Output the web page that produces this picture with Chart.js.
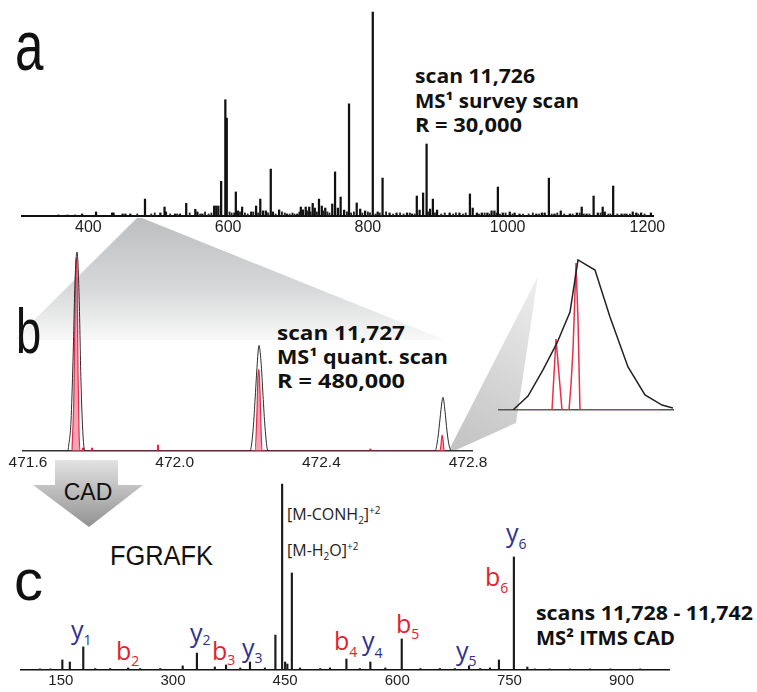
<!DOCTYPE html>
<html>
<head>
<meta charset="utf-8">
<script src="https://cdn.jsdelivr.net/npm/chart.js@4.4.1/dist/chart.umd.min.js"></script>
<style>
html, body { margin: 0; padding: 0; background: #fff; }
#fig { position: relative; width: 757px; height: 692px; overflow: hidden; }
#fig canvas, #fig svg { position: absolute; }
.lbl { font-family: 'Liberation Sans', Arial, sans-serif; fill: #111; }
.bold { font-family: 'Open Sans', sans-serif; font-weight: bold; fill: #111; }
.ion { font-family: 'Open Sans', sans-serif; font-size: 25px; }
.yion { fill: #2e3192; }
.bion { fill: #e3202e; }
</style>
</head>
<body>
<div id="fig">
<svg width="757" height="692" style="left:0;top:0">
  <defs>
    <linearGradient id="fan" gradientUnits="userSpaceOnUse" x1="0" y1="218" x2="0" y2="350">
      <stop offset="0" stop-color="#bcbec0"/>
      <stop offset="0.55" stop-color="#d8d9da"/>
      <stop offset="1" stop-color="#ffffff"/>
    </linearGradient>
    <linearGradient id="wedge" gradientUnits="userSpaceOnUse" x1="450" y1="449" x2="540" y2="276">
      <stop offset="0" stop-color="#c2c2c2"/>
      <stop offset="1" stop-color="#efefef"/>
    </linearGradient>
    <linearGradient id="arrow" gradientUnits="userSpaceOnUse" x1="0" y1="460" x2="0" y2="527">
      <stop offset="0" stop-color="#e2e2e2"/>
      <stop offset="1" stop-color="#929292"/>
    </linearGradient>
  </defs>
  <polygon points="137,218 142,218 445,340 14,340" fill="url(#fan)"/>
  <polygon points="449,450 538,276 516,423 456,450" fill="url(#wedge)"/>
  <polygon points="55,460 118,460 118,485 143,485 89,527 33,485 55,485" fill="url(#arrow)"/>
  <text class="lbl" x="88" y="500" text-anchor="middle" font-size="23">CAD</text>

  <text class="lbl" transform="translate(15,70) scale(0.72,1)" font-size="71">a</text>
  <text class="lbl" transform="translate(16,353) scale(0.72,1)" font-size="63">b</text>
  <text class="lbl" x="14" y="600" font-size="58">c</text>

  <text class="bold" x="415" y="83" font-size="19" textLength="120" lengthAdjust="spacingAndGlyphs">scan 11,726</text>
  <text class="bold" x="415" y="108" font-size="19" textLength="164" lengthAdjust="spacingAndGlyphs">MS¹ survey scan</text>
  <text class="bold" x="415" y="132" font-size="19" textLength="107" lengthAdjust="spacingAndGlyphs">R = 30,000</text>

  <text class="bold" x="277" y="340" font-size="19.5" textLength="128" lengthAdjust="spacingAndGlyphs">scan 11,727</text>
  <text class="bold" x="277" y="364" font-size="19.5" textLength="171" lengthAdjust="spacingAndGlyphs">MS¹ quant. scan</text>
  <text class="bold" x="277" y="388" font-size="19.5" textLength="128" lengthAdjust="spacingAndGlyphs">R = 480,000</text>

  <text class="bold" x="536" y="620" font-size="19.5" textLength="217" lengthAdjust="spacingAndGlyphs">scans 11,728 - 11,742</text>
  <text class="bold" x="536" y="645" font-size="19.5" textLength="139" lengthAdjust="spacingAndGlyphs">MS² ITMS CAD</text>

  <text class="lbl" x="110" y="565" font-size="27" textLength="103" lengthAdjust="spacingAndGlyphs">FGRAFK</text>

  <text x="287" y="520" font-family="Open Sans, sans-serif" font-size="16" fill="#222">[M-CONH<tspan dy="4" font-size="10">2</tspan><tspan dy="-4">]</tspan><tspan dy="-6" font-size="10">+2</tspan></text>
  <text x="287" y="556" font-family="Open Sans, sans-serif" font-size="16" fill="#222">[M-H<tspan dy="4" font-size="10">2</tspan><tspan dy="-4">O]</tspan><tspan dy="-6" font-size="10">+2</tspan></text>

  <text class="ion yion" x="71" y="639">y<tspan font-size="14" dy="6">1</tspan></text>
  <text class="ion bion" x="116" y="660">b<tspan font-size="14" dy="6">2</tspan></text>
  <text class="ion yion" x="190" y="642">y<tspan font-size="14" dy="3">2</tspan></text>
  <text class="ion bion" x="212" y="660">b<tspan font-size="14" dy="5">3</tspan></text>
  <text class="ion yion" x="242" y="657">y<tspan font-size="14" dy="6">3</tspan></text>
  <text class="ion bion" x="334" y="650">b<tspan font-size="14" dy="7">4</tspan></text>
  <text class="ion yion" x="362" y="650">y<tspan font-size="14" dy="8">4</tspan></text>
  <text class="ion bion" x="396" y="633">b<tspan font-size="14" dy="6">5</tspan></text>
  <text class="ion yion" x="456" y="660">y<tspan font-size="14" dy="6">5</tspan></text>
  <text class="ion bion" x="485" y="586">b<tspan font-size="14" dy="7">6</tspan></text>
  <text class="ion yion" x="506" y="542">y<tspan font-size="14" dy="7">6</tspan></text>
</svg>
<canvas id="chartA" width="671" height="240" style="left:2px;top:0px"></canvas>
<canvas id="chartB" width="489" height="238" style="left:3px;top:235px"></canvas>
<canvas id="chartInset" width="214" height="175" style="left:479px;top:245px"></canvas>
<canvas id="chartC" width="688" height="222" style="left:1px;top:470px"></canvas>
</div>
<script>
// panel a: MS1 survey scan (relative intensity, tallest = 100)
const aTicks = [400, 600, 800, 1000, 1200];
const aMz = [357, 370, 381, 391, 411, 434, 436, 449, 453, 460, 481, 503, 509, 511, 524, 531, 540, 553, 556, 563,
  580, 583, 586, 590, 596, 598, 609, 611, 614, 620, 633, 640, 646, 650, 654, 661, 664, 673, 684, 699,
  704, 707, 711, 716, 721, 724, 730, 734, 739, 749, 753, 757, 761, 766, 773, 784, 789, 796, 807, 814,
  821, 831, 841, 856, 863, 870, 874, 879, 884, 889, 893, 899, 917, 931, 946, 950, 956, 963, 971, 977,
  981, 986, 993, 1003, 1010, 1017, 1041, 1049, 1053, 1059, 1067, 1076, 1089, 1099, 1106, 1113, 1123, 1129, 1136, 1139,
  1151, 1163, 1170, 1179, 1184, 1191, 1205];
const aInt = [0.5, 0.5, 0.5, 1, 2, 1.5, 1.5, 1, 1, 1, 8.3, 1.5, 4.4, 2, 1, 1, 6.2, 3.3, 2, 1,
  4.9, 4.9, 4.9, 17, 57, 48, 1.5, 11.8, 2.5, 4.4, 2, 4.9, 8.3, 2.5, 2.5, 23, 2, 3, 1, 1,
  4.4, 3, 4.4, 4.4, 6.2, 3.9, 8.3, 4.9, 3.9, 5.9, 21.6, 3.9, 9.3, 2.9, 55, 6.4, 3.4, 2.5, 100, 2,
  18.6, 1.5, 1.5, 1.5, 1, 9.8, 2.9, 11.3, 35.3, 3.4, 8.3, 2.9, 1.5, 1.5, 10.8, 3.9, 1.5, 1.5, 1.5, 2.5,
  2.5, 14.2, 1.5, 2, 1.5, 1, 1, 1.5, 1.5, 18.6, 1, 2.5, 1, 1.5, 4.4, 1, 9.8, 1.5, 4.4, 2,
  14.7, 1, 1, 2, 1.5, 1.5, 1.5];
// small baseline peaks of panel a
const aNoiseMz = [470, 490, 495, 517, 527, 545, 560, 567, 572, 576, 602, 605, 617, 624, 628, 636, 643, 657, 668, 677,
  681, 688, 692, 695, 702, 713, 718, 727, 736, 742, 745, 770, 776, 780, 792, 800, 803, 811, 817, 826,
  836, 846, 851, 860, 867, 886, 896, 905, 910, 922, 926, 936, 940, 959, 967, 974, 984, 989, 997, 1007,
  1022, 1030, 1036, 1045, 1063, 1071, 1081, 1093, 1103, 1109, 1117, 1133, 1144, 1147, 1157, 1167, 1175, 1187, 1196];
const aNoiseInt = [1, 1, 1.5, 1, 1, 1.5, 1, 2, 1, 1.5, 2, 1.5, 2, 1.5, 1, 2, 1.5, 1.5, 1, 2,
  1.5, 1, 1.5, 1, 2, 2.5, 2, 2, 2.5, 2, 1.5, 2, 1.5, 2, 1.5, 2, 1.5, 1, 1.5, 2,
  1, 1.5, 1, 1.5, 1, 2, 1.5, 1, 1.5, 1, 1.5, 1, 1.5, 1, 1.5, 1, 1.5, 1, 1.5, 1,
  1, 1, 1.5, 1, 1, 1.5, 1, 1, 1.5, 1, 1, 1.5, 1, 1, 1, 1, 1, 1, 1];

// panel b: MS1 quant scan, profile (black) and resolved peaks (red)
const bTicks = [471.6, 472.0, 472.4, 472.8];
const bProfileMz = [471.7091, 471.7173, 471.7227, 471.7282, 471.7336, 471.7391, 471.7445, 471.7500, 471.7554,
  472.2054, 472.2136, 472.2190, 472.2245, 472.2299, 472.2354, 472.2409, 472.2463, 472.2545,
  472.7099, 472.7181, 472.7235, 472.7290, 472.7317, 472.7372, 472.7426, 472.7481, 472.7535];
const bProfileInt = [0, 15, 45, 85, 100, 80, 35, 8, 0,
  0, 10, 25, 42, 53, 45, 28, 12, 0,
  0, 7, 16, 25, 27, 20, 10, 3, 0];
const bRedMz = [471.7200, 471.7254, 471.7282, 471.7309, 471.7336, 471.7364, 471.7391, 471.7418,
  472.2190, 472.2245, 472.2272, 472.2299, 472.2327, 472.2354, 472.2381,
  472.7235, 472.7262, 472.7290, 472.7317, 472.7344];
const bRedInt = [0, 30, 70, 97, 90, 40, 10, 0,
  0, 20, 38, 41, 30, 12, 0,
  0, 3, 8, 6, 0];
const bSpikeMz = [471.7500, 471.7745, 471.9545, 472.5336];
const bSpikeInt = [1.5, 1.5, 3, 1];

// inset: one isotope peak, expanded
const insetBlackMz = [472.7035, 472.70725, 472.7110, 472.71450, 472.71775, 472.71975, 472.7240, 472.72775, 472.73225, 472.7365, 472.74075, 472.7435];
const insetBlackInt = [0, 9.3, 26.7, 44.7, 65.3, 100, 93.3, 62, 28.7, 10, 3.3, 1.3];
const insetRedMz = [472.7035, 472.71325, 472.71425, 472.71575, 472.7175, 472.7180, 472.7185, 472.71925, 472.71975, 472.72025, 472.7400];
const insetRedInt = [0, 0, 47.3, 0, 0, 17, 40, 98, 60, 0, 0];

// panel c: MS2 ITMS CAD
const cTicks = [150, 300, 450, 600, 750, 900];
const cMz = [122, 136, 152, 162, 180, 196, 216, 240, 256, 283, 313, 332, 356, 371, 390, 403, 423, 437, 446, 450,
  453, 459, 470, 497, 510, 532, 550, 564, 584, 606, 631, 657, 677, 696, 711, 724, 736, 756, 774, 784,
  804, 831, 858, 885, 925];
const cInt = [0.6, 0.6, 5.4, 4.3, 12.4, 0.8, 0.8, 1.1, 0.8, 0.8, 2.2, 9.1, 1.6, 2.7, 1.1, 4.3, 1.1, 18.8, 100, 4.3,
  3.2, 52.2, 1.1, 0.8, 1.1, 5.9, 0.8, 4.3, 1.1, 16.7, 0.8, 0.8, 0.8, 2.2, 0.8, 1.1, 5.4, 60.8, 1.6, 0.6,
  0.6, 0.6, 0.6, 0.6, 0.6];

function pts(mz, inten) {
    return mz.map((m, i) => ({x: m, y: inten[i]}));
}

function xAxis(min, max, tickList, fontSize, fmt, height, borderColor, borderWidth) {
    return {
        type: 'linear',
        min: min,
        max: max,
        bounds: 'data',
        offset: false,
        afterBuildTicks: (s) => { s.ticks = tickList.map(v => ({value: v})); },
        afterFit: (s) => { s.height = height; },
        grid: {display: false, drawTicks: false, offset: false},
        border: {display: true, color: borderColor, width: borderWidth},
        ticks: {
            display: fontSize > 0,
            autoSkip: false,
            maxRotation: 0,
            padding: 2,
            color: '#1e1e1e',
            font: {family: "'Liberation Sans', Arial, sans-serif", size: fontSize || 12},
            callback: fmt
        }
    };
}

function yAxis(max) {
    return {display: false, min: 0, max: max};
}

const common = {
    responsive: false,
    animation: false,
    plugins: {legend: {display: false}, tooltip: {enabled: false}}
};

new Chart(document.getElementById('chartA'), {
    type: 'bar',
    data: {
        datasets: [{
            data: pts(aMz, aInt),
            backgroundColor: '#111',
            barThickness: 1.6
        }, {
            data: pts(aNoiseMz, aNoiseInt),
            backgroundColor: '#222',
            barThickness: 1.2
        }]
    },
    options: Object.assign({}, common, {
        layout: {padding: {left: 20, right: 20, top: 10, bottom: 0}},
        datasets: {bar: {grouped: false}},
        scales: {
            x: xAxis(305, 1208, aTicks, 16, v => String(v), 24, '#111', 2),
            y: yAxis(101)
        }
    })
});

new Chart(document.getElementById('chartB'), {
    type: 'line',
    data: {
        datasets: [{
            data: pts(bProfileMz, bProfileInt),
            borderColor: '#2a2a2a',
            borderWidth: 1,
            pointRadius: 0,
            fill: false,
            cubicInterpolationMode: 'monotone',
            order: 1
        }, {
            data: pts(bRedMz, bRedInt),
            borderColor: '#e42a48',
            backgroundColor: 'rgba(238, 90, 120, 0.55)',
            borderWidth: 1.2,
            pointRadius: 0,
            fill: 'origin',
            cubicInterpolationMode: 'monotone',
            order: 2
        }, {
            type: 'bar',
            data: pts(bSpikeMz, bSpikeInt),
            backgroundColor: '#e42a48',
            barThickness: 1.5,
            order: 3
        }]
    },
    options: Object.assign({}, common, {
        layout: {padding: {left: 20, right: 20, top: 10, bottom: 0}},
        scales: {
            x: xAxis(471.5864, 472.8108, bTicks, 15.5, v => v.toFixed(1), 22, '#333', 1.5),
            y: yAxis(103.5)
        }
    })
});

new Chart(document.getElementById('chartInset'), {
    type: 'line',
    data: {
        datasets: [{
            data: pts(insetBlackMz, insetBlackInt),
            borderColor: '#222',
            borderWidth: 1.5,
            pointRadius: 0,
            tension: 0,
            order: 1
        }, {
            data: pts(insetRedMz, insetRedInt),
            borderColor: '#e8304a',
            borderWidth: 1.5,
            pointRadius: 0,
            tension: 0,
            order: 2
        }]
    },
    options: Object.assign({}, common, {
        layout: {padding: {left: 20, right: 20, top: 10, bottom: 10}},
        scales: {
            x: xAxis(472.7, 472.7435, [], 0, v => '', 0, '#555', 1.5),
            y: yAxis(103.3)
        }
    })
});

new Chart(document.getElementById('chartC'), {
    type: 'bar',
    data: {
        datasets: [{
            data: pts(cMz, cInt),
            backgroundColor: '#1a1a1a',
            barThickness: 1.5
        }]
    },
    options: Object.assign({}, common, {
        layout: {padding: {left: 20, right: 20, top: 10, bottom: 0}},
        scales: {
            x: xAxis(96.7, 963.5, cTicks, 15, v => String(v), 22, '#111', 1.5),
            y: yAxis(102.2)
        }
    })
});
</script>
</body>
</html>
